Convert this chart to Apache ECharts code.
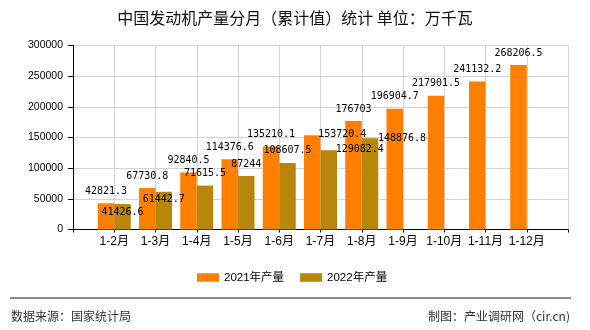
<!DOCTYPE html>
<html>
<head>
<meta charset="utf-8">
<script src="https://cdn.jsdelivr.net/npm/echarts@6/dist/echarts.min.js"></script>
<style>
  html, body { margin: 0; padding: 0; background: #fff; }
  #chart { width: 590px; height: 330px; }
</style>
</head>
<body>
<div id="chart"></div>
<script>
// ---- data ----
var categories = ['1-2月', '1-3月', '1-4月', '1-5月', '1-6月', '1-7月', '1-8月', '1-9月', '1-10月', '1-11月', '1-12月'];
var values2021 = [42821.3, 67730.8, 92840.5, 114376.6, 135210.1, 153720.4, 176703, 196904.7, 217901.5, 241132.2, 268206.5];
var values2022 = [41426.6, 61442.7, 71615.5, 87244, 108607.5, 129082.4, 148876.8];
var seriesNames = ['2021年产量', '2022年产量'];
var yTicks = [0, 50000, 100000, 150000, 200000, 250000, 300000];

// label displacement (overlap avoidance as in the reference), keyed by category index
var labelShift = [
  { 5: [30, 11] },
  { 0: [0, 20], 1: [0, 20], 5: [31, 11], 6: [32, 12] }
];

// pad one empty slot on each side of the category axis
var axisCats = [''].concat(categories, ['']);
function pad(arr) {
  var out = [null];
  for (var i = 0; i < categories.length; i++) out.push(i < arr.length ? arr[i] : null);
  out.push(null);
  return out;
}

var monoFont = "'DejaVu Sans Mono', 'Liberation Mono', monospace";
var sansFont = "'Liberation Sans', 'Noto Sans CJK SC', sans-serif";
var cjkFont = "'Noto Sans CJK SC', 'Liberation Sans', sans-serif";

var chart = echarts.init(document.getElementById('chart'), null, { renderer: 'canvas' });

function makeSeries(idx, vals, color) {
  return {
    name: seriesNames[idx],
    type: 'bar',
    data: pad(vals),
    barWidth: 16.5,
    barGap: '0%',
    itemStyle: { color: color },
    label: {
      show: true,
      position: 'top',
      distance: 7,
      color: '#000',
      fontSize: 10,
      fontFamily: monoFont,
      formatter: function (p) { return String(p.value); }
    },
    labelLayout: function (p) {
      var s = labelShift[idx][p.dataIndex - 1];
      return s ? { dx: s[0], dy: s[1] } : {};
    }
  };
}

chart.setOption({
  animation: false,
  backgroundColor: '#fff',
  title: {
    text: '中国发动机产量分月（累计值）统计 单位：万千瓦',
    left: 'center',
    top: 10,
    padding: 0,
    textStyle: { fontSize: 16, fontWeight: 'normal', color: '#111', fontFamily: cjkFont, lineHeight: 16 }
  },
  legend: {
    data: seriesNames,
    left: 197,
    top: 271.5,
    padding: 0,
    itemWidth: 22,
    itemHeight: 8.5,
    itemGap: 16,
    icon: 'rect',
    textStyle: { fontSize: 11.5, color: '#000', fontFamily: sansFont, lineHeight: 12 }
  },
  grid: { left: 73, right: 22, top: 45.5, bottom: 100.5 },
  xAxis: {
    type: 'category',
    data: axisCats,
    boundaryGap: false,
    axisLine: { lineStyle: { color: '#000', width: 1 } },
    axisTick: { show: true, length: 3, lineStyle: { color: '#000' } },
    axisLabel: { color: '#000', fontSize: 12, fontFamily: sansFont, margin: 6, interval: 0 },
    splitLine: { show: true, lineStyle: { color: '#d4d4d4', width: 1 } }
  },
  yAxis: {
    type: 'value',
    min: yTicks[0],
    max: yTicks[yTicks.length - 1],
    interval: yTicks[1] - yTicks[0],
    axisLine: { show: true, lineStyle: { color: '#000', width: 1 } },
    axisTick: { show: true, length: 5, lineStyle: { color: '#000' } },
    axisLabel: {
      color: '#000', fontSize: 10.5, fontFamily: sansFont, margin: 10,
      formatter: function (v) { return String(v); }
    },
    splitLine: { show: true, lineStyle: { color: '#d4d4d4', width: 1 } }
  },
  series: [
    makeSeries(0, values2021, '#ff8000'),
    makeSeries(1, values2022, '#b8860b')
  ],
  graphic: [
    {
      type: 'line',
      shape: { x1: 10, y1: 298, x2: 571, y2: 298 },
      style: { stroke: '#8a8a8a', lineWidth: 2 }
    },
    {
      type: 'text',
      left: 11,
      top: 310,
      style: { text: '数据来源：国家统计局', fontSize: 12, fill: '#333', fontFamily: cjkFont }
    },
    {
      type: 'text',
      right: 20,
      top: 310,
      style: { text: '制图：产业调研网（cir.cn)', fontSize: 12, fill: '#333', fontFamily: cjkFont }
    }
  ]
});
</script>
</body>
</html>
